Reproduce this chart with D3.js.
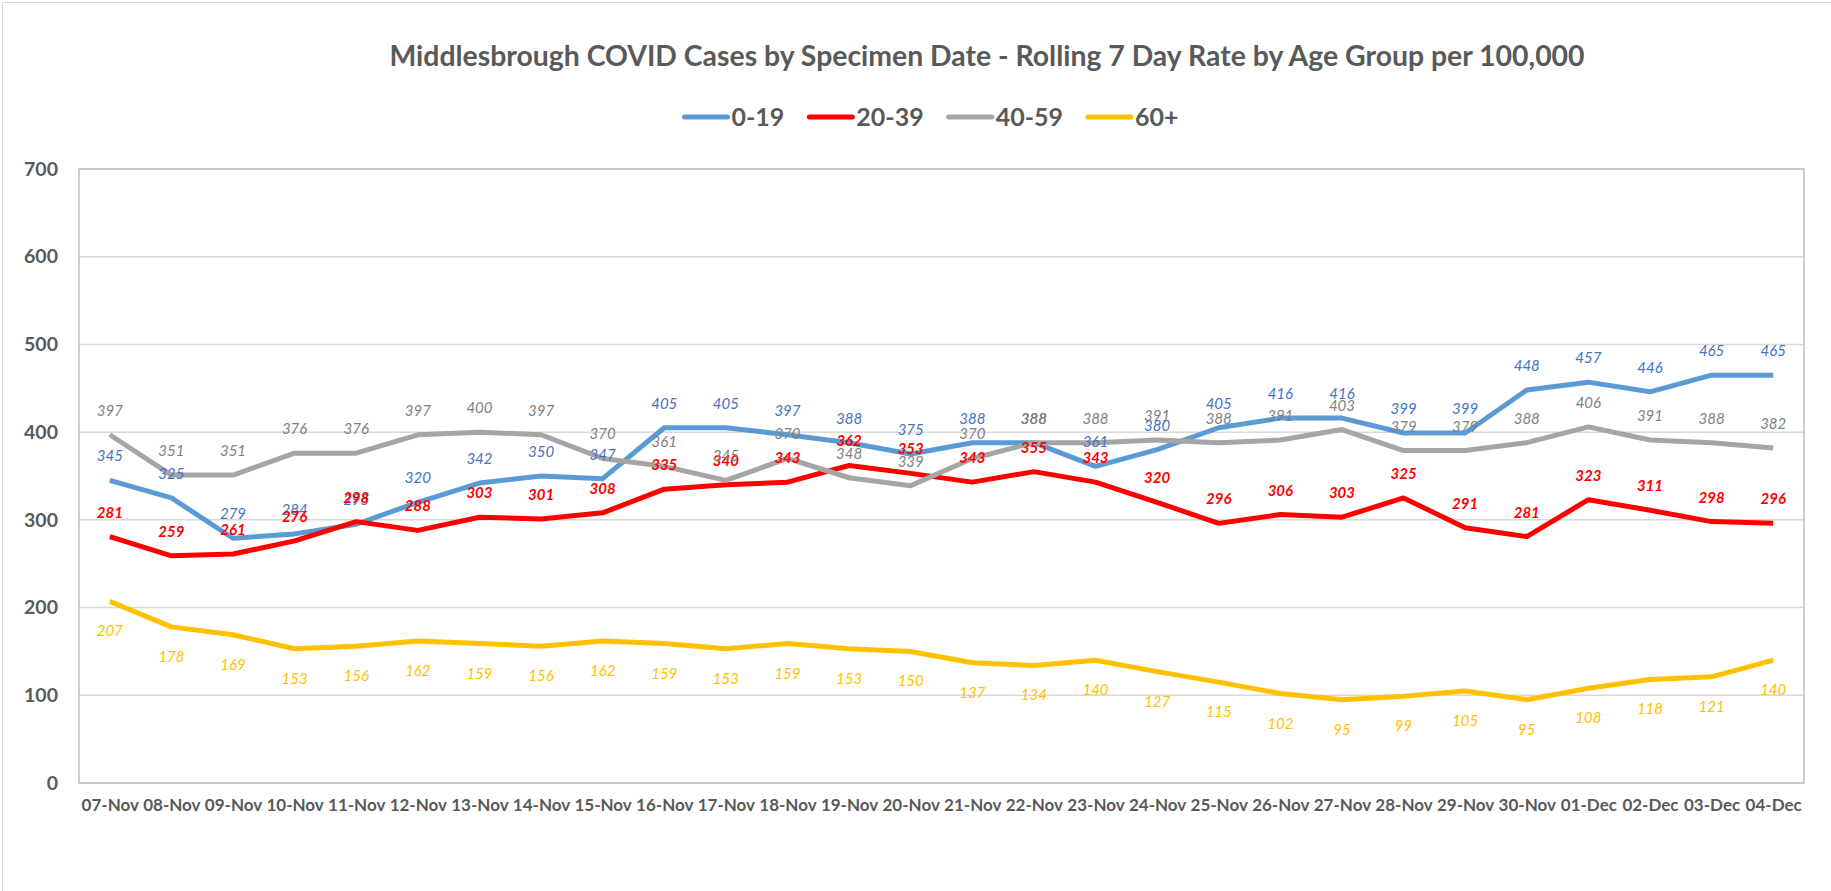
<!DOCTYPE html>
<html>
<head>
<meta charset="utf-8">
<script src="https://cdn.jsdelivr.net/npm/d3@7"></script>
<style>
  body { margin: 0; background: #fff; }
  svg { display: block; font-family: Lato, "Open Sans", sans-serif; }
</style>
</head>
<body>
<svg id="chart" width="1831" height="891"></svg>
<script>
const dates = ["07-Nov", "08-Nov", "09-Nov", "10-Nov", "11-Nov", "12-Nov", "13-Nov", "14-Nov",
  "15-Nov", "16-Nov", "17-Nov", "18-Nov", "19-Nov", "20-Nov", "21-Nov", "22-Nov", "23-Nov",
  "24-Nov", "25-Nov", "26-Nov", "27-Nov", "28-Nov", "29-Nov", "30-Nov", "01-Dec", "02-Dec",
  "03-Dec", "04-Dec"];

const age0to19 = [345, 325, 279, 284, 295, 320, 342, 350, 347, 405, 405, 397, 388, 375, 388,
  388, 361, 380, 405, 416, 416, 399, 399, 448, 457, 446, 465, 465];
const age20to39 = [281, 259, 261, 276, 298, 288, 303, 301, 308, 335, 340, 343, 362, 353, 343,
  355, 343, 320, 296, 306, 303, 325, 291, 281, 323, 311, 298, 296];
const age40to59 = [397, 351, 351, 376, 376, 397, 400, 397, 370, 361, 345, 370, 348, 339, 370,
  388, 388, 391, 388, 391, 403, 379, 379, 388, 406, 391, 388, 382];
const age60plus = [207, 178, 169, 153, 156, 162, 159, 156, 162, 159, 153, 159, 153, 150, 137,
  134, 140, 127, 115, 102, 95, 99, 105, 95, 108, 118, 121, 140];

const yTickValues = [0, 100, 200, 300, 400, 500, 600, 700];

const seriesNames = ["0-19", "20-39", "40-59", "60+"];

const series = [
  { name: seriesNames[0], values: age0to19, line: "#5b9bd5", label: "#4472c4", pos: "above", weight: "normal" },
  { name: seriesNames[1], values: age20to39, line: "#ff0000", label: "#ff0000", pos: "above", weight: "bold" },
  { name: seriesNames[2], values: age40to59, line: "#a5a5a5", label: "#7f7f7f", pos: "above", weight: "normal" },
  { name: seriesNames[3], values: age60plus, line: "#ffc000", label: "#ffc000", pos: "below", weight: "normal" }
];

const svg = d3.select("#chart");
const width = +svg.attr("width");
const height = +svg.attr("height");
const margin = { left: 79, right: 27, top: 169, bottom: 108 };
const innerWidth = width - margin.left - margin.right;
const innerHeight = height - margin.top - margin.bottom;

// outer chart frame (only top and left edges fall inside the picture)
svg.append("path")
    .attr("d", `M2.5,${height} V2.5 H${width}`)
    .attr("fill", "none")
    .attr("stroke", "#d9d9d9");

const title = svg.append("text")
    .attr("x", 987)
    .attr("y", 66)
    .attr("text-anchor", "middle")
    .attr("fill", "#595959")
    .attr("font-weight", "bold")
    .attr("font-size", 24)
    .text("Middlesbrough COVID Cases by Specimen Date - Rolling 7 Day Rate by Age Group per 100,000");
// fit title to the width seen in the reference
const tw = title.node().getComputedTextLength();
title.attr("font-size", 24 * 1196 / tw);

// legend
const legend = svg.append("g");
let lx = 0;
series.forEach(s => {
  const item = legend.append("g").attr("transform", `translate(${lx},0)`);
  item.append("line")
      .attr("x1", 3).attr("x2", 46)
      .attr("y1", 0).attr("y2", 0)
      .attr("stroke", s.line)
      .attr("stroke-width", 5)
      .attr("stroke-linecap", "round");
  const t = item.append("text")
      .attr("x", 50)
      .attr("y", 9)
      .attr("fill", "#595959")
      .attr("font-weight", "bold")
      .attr("font-size", 25)
      .text(s.name);
  lx += 50 + t.node().getComputedTextLength() + 22;
});
lx -= 22;
legend.attr("transform", `translate(${930 - lx / 2},117)`);

const g = svg.append("g")
    .attr("transform", `translate(${margin.left},${margin.top})`);

const xScale = d3.scalePoint()
    .domain(dates)
    .range([0, innerWidth])
    .padding(0.5);

const yScale = d3.scaleLinear()
    .domain([0, 700])
    .range([innerHeight, 0]);

// gridlines
g.append("g")
    .selectAll("line")
    .data(yTickValues)
    .enter().append("line")
      .attr("x1", 0).attr("x2", innerWidth)
      .attr("y1", d => yScale(d)).attr("y2", d => yScale(d))
      .attr("stroke", "#d9d9d9")
      .attr("stroke-width", 1.5);

// plot border
g.append("rect")
    .attr("width", innerWidth)
    .attr("height", innerHeight)
    .attr("fill", "none")
    .attr("stroke", "#bfbfbf")
    .attr("stroke-width", 1.5);

const yAxis = d3.axisLeft(yScale)
    .tickValues(yTickValues)
    .tickSize(0)
    .tickPadding(21);
const yAxisG = g.append("g").call(yAxis);
yAxisG.select(".domain").remove();
yAxisG.selectAll("text")
    .attr("font-family", "Lato, sans-serif")
    .attr("font-size", 19.5)
    .attr("font-weight", "bold")
    .attr("fill", "#595959");

const xAxis = d3.axisBottom(xScale)
    .tickSize(0)
    .tickPadding(16);
const xAxisG = g.append("g")
    .attr("transform", `translate(0,${innerHeight})`)
    .call(xAxis);
xAxisG.select(".domain").remove();
xAxisG.selectAll("text")
    .attr("font-family", "Lato, sans-serif")
    .attr("font-size", 17)
    .attr("font-weight", "bold")
    .attr("fill", "#595959");

const line = d3.line()
    .x((d, i) => xScale(dates[i]))
    .y(d => yScale(d));

series.forEach(s => {
  g.append("path")
      .datum(s.values)
      .attr("d", line)
      .attr("fill", "none")
      .attr("stroke", s.line)
      .attr("stroke-width", 5)
      .attr("stroke-linejoin", "round");
});

// data labels
series.forEach(s => {
  g.append("g")
      .selectAll("text")
      .data(s.values)
      .enter().append("text")
        .attr("x", (d, i) => xScale(dates[i]))
        .attr("y", d => yScale(d) + (s.pos === "above" ? -19 : 35))
        .attr("text-anchor", "middle")
        .attr("font-size", 15)
        .attr("font-style", "italic")
        .attr("font-weight", s.weight)
        .attr("fill", s.label)
        .text(d => d);
});
</script>
</body>
</html>
